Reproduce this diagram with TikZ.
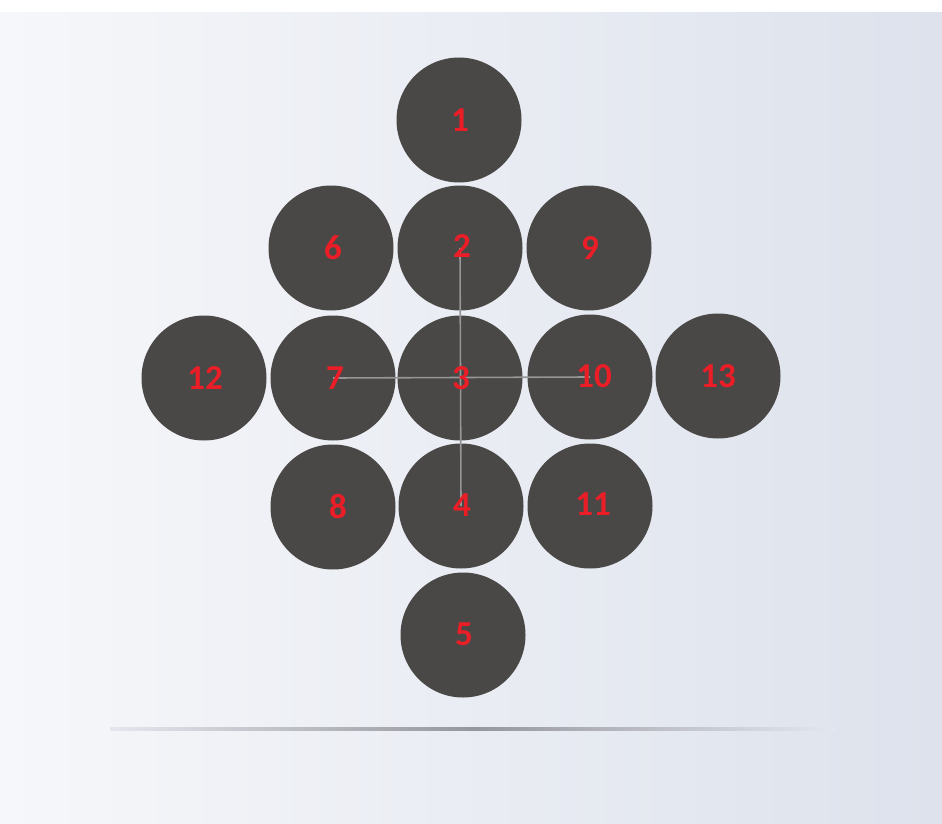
\documentclass[tikz,border=0pt]{standalone}
\usepackage{fontspec}
\setmainfont{Carlito}[BoldFont={Carlito Bold}]
\usetikzlibrary{fadings}
\definecolor{disc}{RGB}{74,72,70}
\definecolor{lab}{RGB}{235,30,40}
\definecolor{bgR}{RGB}{221,226,236}
\definecolor{bgM}{RGB}{228,231,238}
\definecolor{axis}{RGB}{150,150,150}
\tikzset{
  disc/.style={circle,fill=disc,minimum size=125pt,inner sep=0pt},
  lbl/.style={font=\bfseries\fontsize{35}{35}\selectfont,text=lab,inner sep=0pt},
  axisline/.style={draw=axis,line width=1.6pt}
}
\begin{document}
\begin{tikzpicture}[x=1pt,y=-1pt]
\useasboundingbox (0,0) rectangle (942,824);
% background
\shade[left color={rgb,255:red,246;green,247;blue,250},right color=bgR] (0,0) rectangle (942,824);
\fill[white] (0,0) rectangle (942,12);
% floor shadow line
\shade[left color=bgM,right color=bgM,middle color={rgb,255:red,150;green,150;blue,158}]
  (110,727.5) rectangle (835,730.5);
% discs
\node[disc] (n1) at (459,120) {};
\node[disc] (n6) at (331,248) {};
\node[disc] (n2) at (460,248) {};
\node[disc] (n9) at (589,248) {};
\node[disc] (n12) at (204,378) {};
\node[disc] (n7) at (333,378) {};
\node[disc] (n3) at (460,378) {};
\node[disc] (n10) at (590,377) {};
\node[disc] (n13) at (718,376) {};
\node[disc] (n8) at (333,507) {};
\node[disc] (n4) at (461,506) {};
\node[disc] (n11) at (590,506) {};
\node[disc] (n5) at (463,635) {};
% axis lines
\draw[axisline] (n2.center) -- (n4.center);
\draw[axisline] (n7.center) -- (n10.center);
% labels
\foreach \n/\t/\dx/\dy in {n1/1/1/0,n6/6/2/0,n2/2/2/-2,n9/9/1/0,n12/12/1/0,n7/7/2/0,n3/3/1/0,
  n10/10/4/-1,n13/13/0/0,n8/8/5/0,n4/4/1/-1,n11/11/3/-2,n5/5/1/-1}
  \node[lbl] (l\n) at ([xshift=\dx pt,yshift=-\dy pt]\n.center) {\t};
\end{tikzpicture}
\end{document}
